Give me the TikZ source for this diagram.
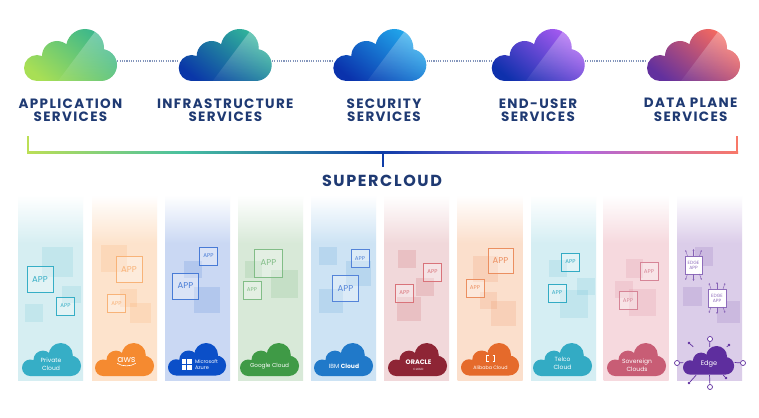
\documentclass[tikz,border=0pt]{standalone}
\usepackage{fontspec}
\setmainfont{Poppins}
\newfontfamily\headfont[LetterSpace=10]{Poppins}
\usetikzlibrary{arrows.meta,fadings}

\definecolor{navy}{HTML}{1F3A73}
\definecolor{dotgrey}{HTML}{8496BC}
\definecolor{privc}{HTML}{36AEC6}
\definecolor{privp}{HTML}{D6EEF2}
\definecolor{awsc}{HTML}{F58A30}
\definecolor{awsp}{HTML}{FDE3CC}
\definecolor{azurec}{HTML}{0B4FC8}
\definecolor{azurep}{HTML}{CAD8F3}
\definecolor{googc}{HTML}{3F9A46}
\definecolor{googp}{HTML}{D8E9D8}
\definecolor{ibmc}{HTML}{2079C9}
\definecolor{ibmp}{HTML}{CDE3F4}
\definecolor{orac}{HTML}{8E2535}
\definecolor{orap}{HTML}{F1D8DA}
\definecolor{orab}{HTML}{D9737A}
\definecolor{alic}{HTML}{E56A2B}
\definecolor{alip}{HTML}{FBDFCC}
\definecolor{telc}{HTML}{33ABC4}
\definecolor{telp}{HTML}{D5EEF3}
\definecolor{sovc}{HTML}{C85D75}
\definecolor{sovp}{HTML}{F6D9DE}
\definecolor{edgec}{HTML}{5E2E9E}
\definecolor{edgep}{HTML}{DBCDE9}
\definecolor{gradlime}{HTML}{A8DF55}
\definecolor{gradteal}{HTML}{35B58F}
\definecolor{gradnavy}{HTML}{0A37A8}
\definecolor{gradsea}{HTML}{32BA9A}
\definecolor{gradblue}{HTML}{0A32AC}
\definecolor{gradsky}{HTML}{22ACEE}
\definecolor{gradink}{HTML}{0E30AC}
\definecolor{gradviolet}{HTML}{AC5CF4}
\definecolor{gradplum}{HTML}{62309E}
\definecolor{gradcoral}{HTML}{FC6C5C}
\definecolor{barlime}{HTML}{BCDF56}
\definecolor{barteal}{HTML}{48C0A0}
\definecolor{barblue}{HTML}{0E3DA8}
\definecolor{barviolet}{HTML}{A865E8}
\definecolor{barcoral}{HTML}{F87868}

\pgfdeclarehorizontalshading{barfade}{100bp}{
	color(0bp)=(barlime);
	color(25bp)=(barlime);
	color(36bp)=(barteal);
	color(50bp)=(barblue);
	color(63bp)=(barviolet);
	color(75bp)=(barcoral);
	color(100bp)=(barcoral)}
\colorlet{panelcol}{white}
\pgfdeclareverticalshading[panelcol]{panelfade}{100bp}{
	color(0bp)=(panelcol);
	color(62bp)=(panelcol);
	color(75bp)=(white);
	color(100bp)=(white)}

\tikzset{
	heading/.style={font=\headfont\bfseries\fontsize{13.5}{13.5}\selectfont, text=navy, align=center, inner sep=0pt},
	cloudspot/.style={minimum width=93pt, minimum height=20pt, inner sep=0pt},
	dotlink/.style={dotgrey, line width=1.1pt, dash pattern=on 1.1pt off 1.2pt},
	appbig/.style={draw=#1, text=#1, line width=.7pt, fill=white, fill opacity=.3, text opacity=1, minimum size=26pt, inner sep=0pt, font=\fontsize{8.5}{8.5}\selectfont},
	appsmall/.style={appbig=#1, minimum size=18pt, font=\fontsize{5.5}{5.5}\selectfont},
	edgeapp/.style={fill=white, draw=edgec!70, line width=.4pt, minimum size=17.5pt, inner sep=0pt, align=center, text=edgec!70, font=\fontsize{4.6}{4.8}\selectfont},
	edgetick/.style={edgec!75, line width=.45pt, -{Stealth[length=1.8pt,width=1.8pt]}},
	decosq/.style={#1, opacity=.12},
	logotext/.style={text=white, align=center, inner sep=0pt, font=\fontsize{6}{7.6}\selectfont},
	spoke/.style={edgec, line width=.7pt},
	ring/.style={circle, draw=edgec, fill=white, line width=.7pt, minimum size=5pt, inner sep=0pt},
	knob/.style={circle, fill=edgec, minimum size=2.6pt, inner sep=0pt},
}

% cloud outline, 93 wide and 52 high, origin top left
\newcommand{\cloudpath}{(13,39) circle (13) (33,27) circle (15) (61,19) circle (19) (77,36) circle (16)
	(13,39) -- (33,27) -- (61,19) -- (77,36) -- (77,52) -- (13,52) -- cycle}
% x, y, lower left colour, upper right colour
\newcommand{\gradcloud}[4]{
	\begin{scope}[shift={(#1,#2)}]
		\clip \cloudpath;
		\shade[bottom color=#3, top color=#4, shading angle=-40] (-2,-2) rectangle (95,54);
		\fill[white, opacity=.34, path fading=south] (34,52) -- (76,-4) -- (100,-4) -- (100,60) -- (34,60) -- cycle;
	\end{scope}
}
% x, y, colour, scale
\newcommand{\basecloud}[4]{
	\fill[#3, shift={(#1,#2)}, scale=#4] \cloudpath;
}
% x, colour
\newcommand{\panelbg}[2]{
	\colorlet{panelcol}{#2}
	\shade[shading=panelfade] (#1,195) rectangle ++(65,185);
}
% six little arrows round an edge app
\newcommand{\edgeticks}[1]{
	\draw[edgetick] (#1.north) -- ++(0,-7);
	\draw[edgetick] ([xshift=-6pt]#1.north) -- ++(-2,-6);
	\draw[edgetick] ([xshift=6pt]#1.north) -- ++(2,-6);
	\draw[edgetick] (#1.south) -- ++(0,7);
	\draw[edgetick] ([xshift=-6pt]#1.south) -- ++(-2,6);
	\draw[edgetick] ([xshift=6pt]#1.south) -- ++(2,6);
}

\begin{document}
\begin{tikzpicture}[x=1pt, y=1pt, yscale=-1]
	\useasboundingbox (0,0) rectangle (759,417);
	\fill[white] (0,0) rectangle (759,417);

	% service clouds
	\node[cloudspot] (appc) at (70.5,61) {};
	\node[cloudspot] (infrac) at (225.2,61) {};
	\node[cloudspot] (secc) at (379.8,61) {};
	\node[cloudspot] (userc) at (538.2,61) {};
	\node[cloudspot] (datac) at (693.5,61) {};
	\draw[dotlink] (appc.east) -- (infrac.west);
	\draw[dotlink] (infrac.east) -- (secc.west);
	\draw[dotlink] (secc.east) -- (userc.west);
	\draw[dotlink] (userc.east) -- (datac.west);
	\gradcloud{24}{29}{gradlime}{gradteal}
	\gradcloud{178.7}{29}{gradnavy}{gradsea}
	\gradcloud{333.3}{29}{gradblue}{gradsky}
	\gradcloud{491.7}{29}{gradink}{gradviolet}
	\gradcloud{647}{29}{gradplum}{gradcoral}

	\node[heading] (appt) at (70.5,110) {APPLICATION\\SERVICES};
	\node[heading] (infrat) at (225.3,110) {INFRASTRUCTURE\\SERVICES};
	\node[heading] (sect) at (384,110) {SECURITY\\SERVICES};
	\node[heading] (usert) at (538,110) {END-USER\\SERVICES};
	\node[heading] (datat) at (690.7,110) {DATA PLANE\\SERVICES};

	% bracket
	\node[shade, shading=barfade, minimum width=711pt, minimum height=2pt, inner sep=0pt] (bar) at (382.5,152) {};
	\node[heading, font=\headfont\bfseries\fontsize{16}{16}\selectfont] (super) at (382,181) {SUPERCLOUD};
	\coordinate (barl) at (28,136);
	\coordinate (barr) at (737,136);
	\coordinate (tick) at (382.5,152);
	\draw[barlime, line width=2pt] (barl) -- (barl |- bar.south);
	\draw[barcoral, line width=2pt] (barr) -- (barr |- bar.south);
	\draw[barblue, line width=2pt, shorten >=8pt] (tick) -- (tick |- super.north);

	% panels
	\panelbg{18}{privp}
	\panelbg{92}{awsp}
	\panelbg{165}{azurep}
	\panelbg{238}{googp}
	\panelbg{311}{ibmp}
	\panelbg{384}{orap}
	\panelbg{457.5}{alip}
	\panelbg{531}{telp}
	\panelbg{603.5}{sovp}
	\panelbg{677}{edgep}

	% private cloud
	\fill[decosq=privc] (42,247) rectangle (73,277);
	\fill[decosq=privc] (62,286) rectangle (81,303);
	\fill[decosq=privc] (25,304) rectangle (43,322);
	\node[appbig=privc] (privbig) at (40,279.5) {APP};
	\node[appsmall=privc] (privsmall) at (65.5,306) {APP};
	\basecloud{22}{343}{privc}{.635}
	\node[logotext] (privt) at (51,364.5) {Private\\Cloud};

	% aws
	\fill[decosq=awsc] (101,245) rectangle (127,272);
	\fill[decosq=awsc] (120,289) rectangle (137,307);
	\fill[decosq=awsc] (130,303) rectangle (151,323);
	\node[appbig=awsc!65] (awsbig) at (129,269.5) {APP};
	\node[appsmall=awsc!65] (awssmall) at (116.5,303.5) {APP};
	\basecloud{95}{343}{awsc}{.635}
	\node[logotext, font=\fontsize{9}{9}\selectfont] (awst) at (126.5,360.5) {aws};
	\draw[white, line width=.6pt] (awst.south west) .. controls +(5,3.5) and +(-5,3.5) .. (awst.south east);

	% azure
	\fill[decosq=azurec] (184,261) rectangle (202,278);
	\fill[decosq=azurec] (194,287) rectangle (220,313);
	\node[appsmall=azurec!75] (azsmall) at (208.5,256) {APP};
	\node[appbig=azurec!75] (azbig) at (185.5,286) {APP};
	\basecloud{168}{343}{azurec}{.625}
	\fill[white] (182,359) rectangle (186,364);
	\fill[white] (187.2,359) rectangle (191.5,364);
	\fill[white] (182,365.2) rectangle (186,370);
	\fill[white] (187.2,365.2) rectangle (191.5,370);
	\node[logotext, align=left, font=\fontsize{5}{6}\selectfont] (azt) at (206.5,364.5) {Microsoft\\Azure};

	% google
	\fill[decosq=googc] (245,261) rectangle (262,278);
	\fill[decosq=googc] (271,270) rectangle (298,298);
	\node[appbig=googc!65, minimum size=28pt] (googbig) at (268.5,263) {APP};
	\node[appsmall=googc!65] (googsmall) at (252,290) {APP};
	\basecloud{240}{343}{googc}{.635}
	\node[logotext, font=\fontsize{5.7}{5.7}\selectfont] (googt) at (269.5,366.5) {Google Cloud};

	% ibm
	\fill[decosq=ibmc] (319,247) rectangle (337,265);
	\fill[decosq=ibmc] (346,261) rectangle (371,286);
	\fill[decosq=ibmc] (319,289) rectangle (343,313);
	\node[appsmall=azurec!70] (ibmsmall) at (360,258.5) {APP};
	\node[appbig=azurec!70] (ibmbig) at (345.5,288.5) {APP};
	\basecloud{314}{343}{ibmc}{.635}
	\node[logotext] (ibmt) at (344,366.5) {IBM \textbf{Cloud}};

	% oracle
	\fill[decosq=orac!70!red] (398,250) rectangle (416,268);
	\fill[decosq=orac!70!red] (416,278) rectangle (434,296);
	\fill[decosq=orac!70!red] (397,297) rectangle (421,321);
	\node[appsmall=orab] (orasmalla) at (432.5,272) {APP};
	\node[appsmall=orab] (orasmallb) at (404.5,293) {APP};
	\basecloud{388}{343}{orac}{.635}
	\node[logotext, font=\bfseries\fontsize{6.5}{6.5}\selectfont] (orat) at (418.5,362) {ORACLE};
	\node[logotext, font=\fontsize{3}{3}\selectfont] (orasub) at (418.5,369) {CLOUD};

	% alibaba
	\fill[decosq=alic] (473,256) rectangle (498,282);
	\fill[decosq=alic] (480,292) rectangle (497,309);
	\fill[decosq=alic] (491,301) rectangle (516,326);
	\node[appbig=alic!75, minimum size=25pt] (alibig) at (500.5,261) {APP};
	\node[appsmall=alic!75] (alismall) at (475,288) {APP};
	\basecloud{461}{343}{alic}{.625}
	\draw[white, line width=1pt] (488.5,355.5) -- (486.5,355.5) -- (486.5,361.5) -- (488.5,361.5);
	\draw[white, line width=1pt] (492.5,355.5) -- (494.5,355.5) -- (494.5,361.5) -- (492.5,361.5);
	\node[logotext, font=\fontsize{4.8}{4.8}\selectfont] (alit) at (490.5,367.5) {Alibaba Cloud};

	% telco
	\fill[decosq=telc] (549,260) rectangle (567,277);
	\fill[decosq=telc] (577,278) rectangle (595,295);
	\fill[decosq=telc] (560,290) rectangle (588,318);
	\node[appsmall=telc] (telsmalla) at (570.5,262) {APP};
	\node[appsmall=telc] (telsmallb) at (557,293) {APP};
	\basecloud{533}{343}{telc}{.635}
	\node[logotext] (telt) at (562.5,363.5) {Telco\\Cloud};

	% sovereign
	\fill[decosq=sovc] (626,259) rectangle (643,278);
	\fill[decosq=sovc] (615,281) rectangle (633,298);
	\fill[decosq=sovc] (629,289) rectangle (656,316);
	\node[appsmall=sovc!75] (sovsmalla) at (649,271.5) {APP};
	\node[appsmall=sovc!75] (sovsmallb) at (628,300.5) {APP};
	\basecloud{607}{343}{sovc}{.635}
	\node[logotext] (sovt) at (637,365) {Sovereign\\Clouds};

	% edge
	\fill[decosq=edgec] (695,247) rectangle (713,266);
	\fill[decosq=edgec] (683,287) rectangle (702,306);
	\fill[decosq=edgec] (717,301) rectangle (740,323);
	\node[edgeapp] (edgea) at (693.5,265) {EDGE\\APP};
	\node[edgeapp] (edgeb) at (717,298) {EDGE\\APP};
	\edgeticks{edgea}
	\edgeticks{edgeb}

	\node[inner sep=0pt, minimum width=51pt, minimum height=28pt] (edgecl) at (709,361) {};
	\node[ring] (ringt) at (710,339) {};
	\node[ring] (ringl) at (677,363) {};
	\node[ring] (ringr) at (743,363) {};
	\node[ring] (ringb) at (710,387) {};
	\node[knob] (knoba) at (689,343) {};
	\node[knob] (knobb) at (729,345) {};
	\node[knob] (knobc) at (689,383) {};
	\node[knob] (knobd) at (726,378) {};
	\draw[spoke] (ringt) -- (edgecl);
	\draw[spoke] (ringl) -- (edgecl);
	\draw[spoke] (ringr) -- (edgecl);
	\draw[spoke] (ringb) -- (edgecl);
	\draw[spoke] (knoba) -- (edgecl);
	\draw[spoke] (knobb) -- (edgecl);
	\draw[spoke] (knobc) -- (edgecl);
	\draw[spoke] (knobd) -- (edgecl);
	\basecloud{683}{346}{edgec}{.55}
	\node[logotext, font=\fontsize{6.6}{6.6}\selectfont] (edget) at (709,364) {Edge};
\end{tikzpicture}
\end{document}
